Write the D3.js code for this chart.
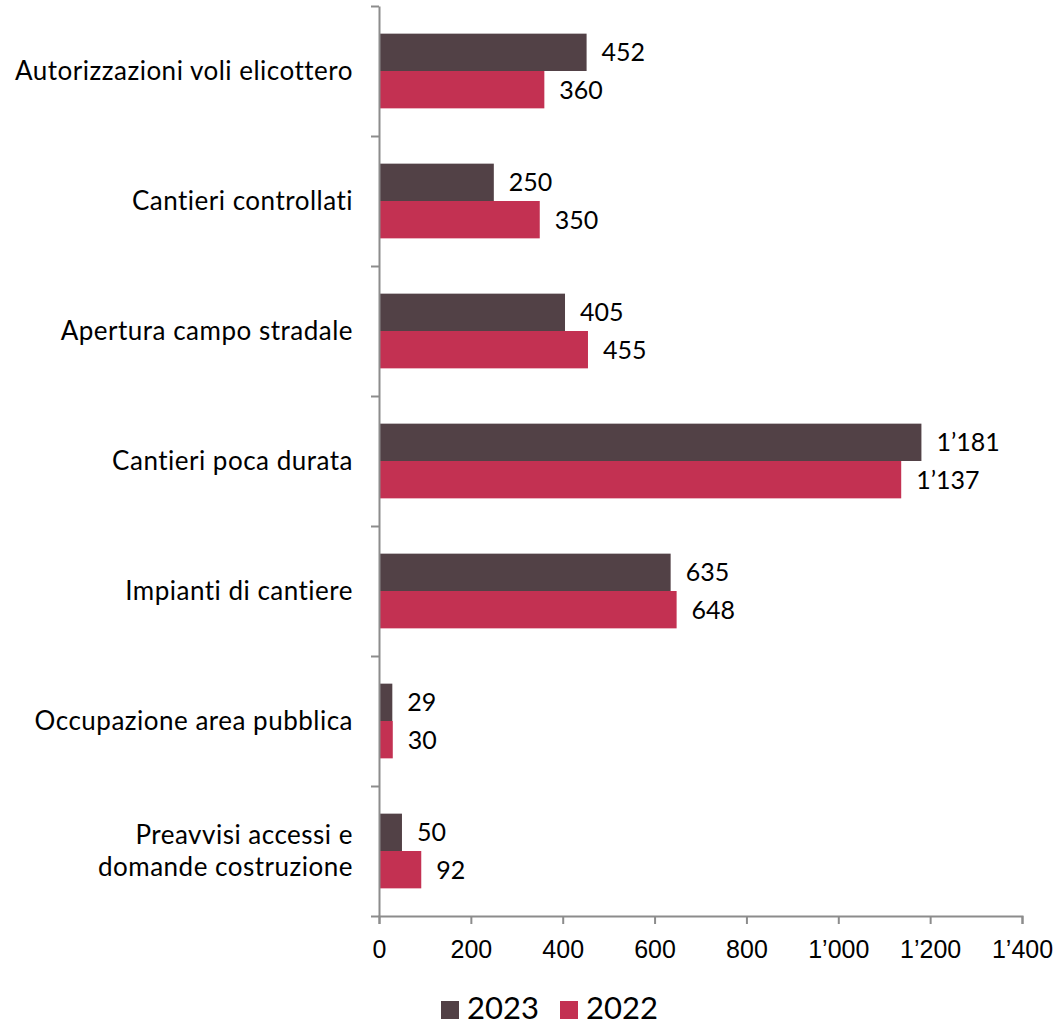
<!DOCTYPE html>
<html>
<head>
<meta charset="utf-8">
<script src="https://cdn.jsdelivr.net/npm/d3@7"></script>
<style>
  html, body { margin: 0; padding: 0; background: #fff; }
  svg { display: block; font-family: Lato, "Noto Sans", sans-serif; }
  .axis path, .axis line { stroke: #8c8c8c; stroke-width: 2; }
  .axis text { fill: #000; }
</style>
</head>
<body>
<svg id="chart" width="1056" height="1025"></svg>
<script>
// Categories (top to bottom), split into lines for the left labels
const categories = [
  ["Autorizzazioni voli elicottero"],
  ["Cantieri controllati"],
  ["Apertura campo stradale"],
  ["Cantieri poca durata"],
  ["Impianti di cantiere"],
  ["Occupazione area pubblica"],
  ["Preavvisi accessi e", "domande costruzione"]
];
const seriesNames = ["2023", "2022"];
const values2023 = [452, 250, 405, 1181, 635, 29, 50];
const values2022 = [360, 350, 455, 1137, 648, 30, 92];
const xTicks = [0, 200, 400, 600, 800, 1000, 1200, 1400];
const colors = ["#524146", "#c33152"];

const seriesValues = [values2023, values2022];
const keys = categories.map(c => c.join(" "));

// Numbers use an apostrophe as the thousands separator
const fmt = d3.formatLocale({ decimal: ".", thousands: "\u2019", grouping: [3], currency: ["", ""] }).format(",d");

const svg = d3.select("#chart");
const plotLeft = 379, plotRight = 1022, plotTop = 6, plotBottom = 916;
const numSize = 25;

const x = d3.scaleLinear().domain([0, 1400]).range([plotLeft, plotRight]);
const y = d3.scaleBand().domain(keys).range([plotTop, plotBottom]).padding(0);
const ySub = d3.scaleBand().domain(seriesNames).range([0, y.bandwidth()]).paddingInner(0).paddingOuter(0.74);

// Bars
const groups = svg.append("g").selectAll("g")
  .data(keys)
  .join("g")
  .attr("transform", d => `translate(0,${y(d)})`);

groups.each(function (k, i) {
  const g = d3.select(this);
  seriesNames.forEach((s, si) => {
    const v = seriesValues[si][i];
    g.append("rect")
      .attr("x", x(0))
      .attr("y", ySub(s))
      .attr("width", x(v) - x(0))
      .attr("height", ySub.bandwidth())
      .attr("fill", colors[si]);
    g.append("text")
      .attr("x", x(v) + 15)
      .attr("y", ySub(s) + ySub.bandwidth() / 2)
      .attr("dy", "0.36em")
      .attr("font-size", numSize)
      .attr("fill", "#000")
      .text(fmt(v));
  });
});

// Category axis: ticks at band boundaries
const yEdge = d3.scaleLinear().domain([0, keys.length]).range([plotTop, plotBottom]);
svg.append("g")
  .attr("class", "axis")
  .attr("transform", `translate(${plotLeft},0)`)
  .call(d3.axisLeft(yEdge).tickValues(d3.range(keys.length + 1)).tickSize(8).tickSizeOuter(0).tickFormat(""));

// Category labels
const catSize = 26;
svg.append("g").selectAll("text")
  .data(categories)
  .join("text")
  .attr("x", 353)
  .attr("y", (d, i) => y(keys[i]) + y.bandwidth() / 2)
  .attr("text-anchor", "end")
  .attr("font-size", catSize)
  .attr("letter-spacing", 0.5)
  .attr("fill", "#000")
  .each(function (lines) {
    const t = d3.select(this);
    const lh = 32;
    lines.forEach((line, li) => {
      t.append("tspan")
        .attr("x", 353)
        .attr("dy", li === 0 ? `${0.36 * catSize - (lines.length - 1) * lh / 2}px` : `${lh}px`)
        .text(line);
    });
  });

// Value axis
svg.append("g")
  .attr("class", "axis")
  .attr("transform", `translate(0,${plotBottom})`)
  .call(d3.axisBottom(x).tickValues(xTicks).tickSize(8).tickSizeOuter(8).tickPadding(16).tickFormat(fmt))
  .call(g => g.selectAll("text").attr("font-size", numSize));

// Legend
const legend = svg.append("g").attr("transform", "translate(441,1001)");
const legendX = [0, 119];
seriesNames.forEach((s, i) => {
  legend.append("rect")
    .attr("x", legendX[i]).attr("y", 0)
    .attr("width", 18).attr("height", 18)
    .attr("fill", colors[i]);
  legend.append("text")
    .attr("x", legendX[i] + 26).attr("y", 18)
    .attr("font-size", 31)
    .attr("fill", "#000")
    .text(s);
});
</script>
</body>
</html>
